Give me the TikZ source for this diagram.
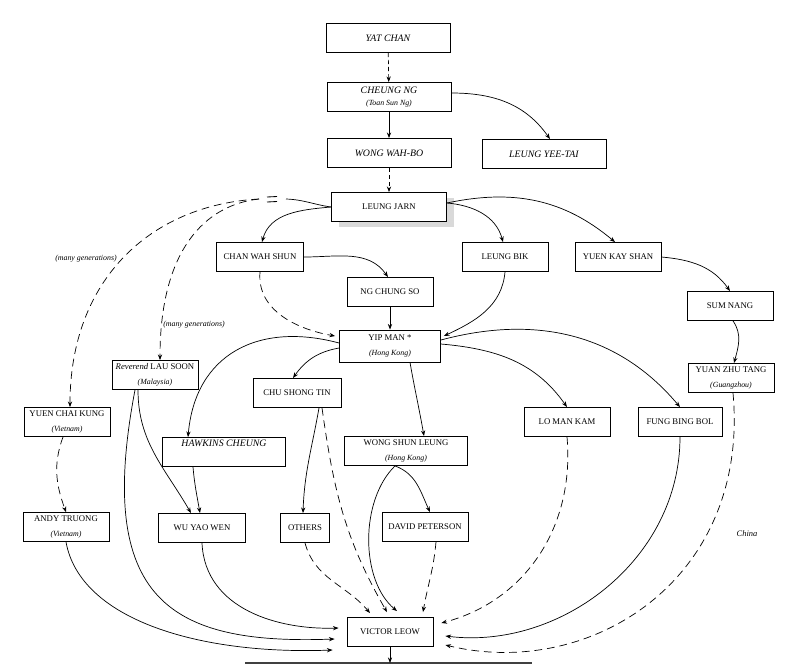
\documentclass[tikz,border=0pt]{standalone}
\usepackage{fontspec}
\setmainfont{Liberation Serif}
\usetikzlibrary{arrows.meta,shadows}
\newcommand{\boxfont}{\fontsize{6.2}{7.5}\selectfont}
\newcommand{\namefont}{\fontsize{7}{8}\selectfont\itshape}
\newcommand{\placefont}{\fontsize{5.6}{6.5}\selectfont\itshape}

\begin{document}
\begin{tikzpicture}[x=0.25mm, y=-0.25mm,
    box/.style={draw, fill=white, line width=0.6pt, minimum width=21.5mm,
      minimum height=7.25mm, inner sep=1pt, align=center, font=\boxfont},
    itbox/.style={box, font=\namefont, minimum width=31mm},
    link/.style={-{Stealth[length=4pt,width=3pt]}, line width=0.5pt},
    dlink/.style={link, dash pattern=on 5.5pt off 3.5pt},
    note/.style={font=\placefont}]
  \useasboundingbox (0,0) rectangle (800,668);

  % Lineage boxes (positions in pixels of the chart)
  \node[itbox] (yatchan) at (388,38) {YAT CHAN};
  \node[itbox] (cheungng) at (389,97) {CHEUNG NG\\{\placefont (Toan Sun Ng)}};
  \node[itbox] (wongwahbo) at (389,153) {WONG WAH-BO};
  \node[itbox] (leungyeetai) at (544,154) {LEUNG YEE-TAI};
  \node[box, minimum width=28.75mm,
    drop shadow={shadow xshift=1.75mm, shadow yshift=-1.25mm, fill=black!15, opacity=1}]
    (leungjarn) at (389,207) {LEUNG JARN};
  \node[box, minimum width=21.75mm] (chanwahshun) at (260,257) {CHAN WAH SHUN};
  \node[box] (ngchungso) at (390,292) {NG CHUNG SO};
  \node[box] (leungbik) at (505,257) {LEUNG BIK};
  \node[box] (yuenkayshan) at (618,257) {YUEN KAY SHAN};
  \node[box] (sumnang) at (730,306) {SUM NANG};
  \node[box, minimum width=25.25mm, minimum height=8mm] (yipman) at (390,346)
    {YIP MAN *\\[3pt]{\placefont (Hong Kong)}};
  \node[box] (yuanzhutang) at (731,378) {YUAN ZHU TANG\\[3pt]{\placefont (Guangzhou)}};
  \node[box] (laosoon) at (155,375) {{\itshape Reverend} LAU SOON\\[3pt]{\placefont (Malaysia)}};
  \node[box, minimum width=22mm] (chushongtin) at (297,393) {CHU SHONG TIN};
  \node[box] (yuenchaikung) at (67,422) {YUEN CHAI KUNG\\[3pt]{\placefont (Vietnam)}};
  \node[itbox, minimum width=30.75mm] (hawkins) at (224,452) {HAWKINS CHEUNG\\[4pt]};
  \node[box, minimum width=30.75mm] (wongshunleung) at (406,451)
    {WONG SHUN LEUNG\\[3pt]{\placefont (Hong Kong)}};
  \node[box] (lomankam) at (567,422) {LO MAN KAM};
  \node[box, minimum width=21mm] (fungbingbol) at (680,422) {FUNG BING BOL};
  \node[box] (andytruong) at (66,527) {ANDY TRUONG\\[3pt]{\placefont (Vietnam)}};
  \node[box, minimum width=21.75mm] (wuyaowen) at (202,528) {WU YAO WEN};
  \node[box, minimum width=12.25mm] (others) at (305,528) {OTHERS};
  \node[box] (davidpeterson) at (425,527) {DAVID PETERSON};
  \node[box] (victorleow) at (390,632) {VICTOR LEOW};

  % Side notes
  \node[note] (gen1) at (86,259) {(many generations)};
  \node[note] (gen2) at (194,325) {(many generations)};
  \node[note, font=\fontsize{6}{7}\selectfont\itshape] (china) at (747,534) {China};

  % Arrival points round VICTOR LEOW
  \coordinate (vw1) at ([xshift=-2mm,yshift=1mm]victorleow.west);
  \coordinate (vw2) at ([xshift=-3mm,yshift=-1.75mm]victorleow.west);
  \coordinate (vw3) at ([xshift=-3.5mm,yshift=-4.5mm]victorleow.west);
  \coordinate (ve1) at ([xshift=2mm,yshift=2.25mm]victorleow.east);
  \coordinate (ve2) at ([xshift=3mm,yshift=-1mm]victorleow.east);
  \coordinate (ve3) at ([xshift=3mm,yshift=-3.25mm]victorleow.east);
  \coordinate (vn1) at ([xshift=-5mm,yshift=1mm]victorleow.north);
  \coordinate (vn2) at ([xshift=-0.75mm,yshift=1.25mm]victorleow.north);
  \coordinate (vn3) at ([xshift=1.75mm,yshift=1.5mm]victorleow.north);
  \coordinate (vn4) at ([xshift=8.25mm,yshift=1.25mm]victorleow.north);

  % Top of the line
  \draw[dlink, dash pattern=on 3pt off 2pt] (yatchan) -- (cheungng);
  \draw[link] (cheungng) -- (wongwahbo);
  \draw[link] ([yshift=1mm]cheungng.east) to[out=0,in=125] ([xshift=1.5mm]leungyeetai.north);
  \draw[dlink, dash pattern=on 3pt off 2pt] (wongwahbo) -- (leungjarn);

  % Leung Jarn and his students
  \draw[link] (leungjarn.west) to[out=185,in=75] ([xshift=0.5mm]chanwahshun.north);
  \draw[link] ([yshift=1mm]leungjarn.east) to[out=-5,in=105] ([xshift=-0.5mm]leungbik.north);
  \draw[link] ([yshift=1mm]leungjarn.east) to[out=12,in=140] ([xshift=-0.75mm]yuenkayshan.north);

  % Broken line: many generations
  \coordinate (brkr) at (286,199);
  \coordinate (brkl) at (259,199);
  \draw[line width=0.5pt] (leungjarn.west) to[out=172,in=-2] (brkr);
  \draw[line width=0.6pt] (267,197) -- (277,196.5) (267,202) -- (277,201.5);
  \draw[dlink] (brkl) .. controls (150,205) and (70,280) .. ([xshift=0.75mm]yuenchaikung.north);
  \draw[dlink] (brkl) .. controls (205,205) and (160,250) .. ([xshift=1.25mm]laosoon.north);

  % Down to Yip Man
  \draw[link] (chanwahshun.east) to[out=0,in=125] ([xshift=-0.5mm]ngchungso.north);
  \draw[dlink] (chanwahshun.south) to[out=-95,in=170] ([xshift=-1mm,yshift=2.5mm]yipman.west);
  \draw[link] (ngchungso) -- (yipman);
  \draw[link] (leungbik.south) to[out=-95,in=25] ([xshift=0.75mm,yshift=2.5mm]yipman.east);
  \draw[link] (yuenkayshan.east) to[out=-5,in=125] (sumnang.north);
  \draw[link] ([xshift=0.75mm]sumnang.south) to[out=-55,in=75] ([xshift=0.75mm]yuanzhutang.north);

  % Yip Man and his students
  \draw[link] ([yshift=0.5mm]yipman.east) to[out=-5,in=125] (lomankam.north);
  \draw[link] ([yshift=1.5mm]yipman.east) to[out=15,in=130] (fungbingbol.north);
  \draw[link] ([yshift=0.75mm]yipman.west) to[out=165,in=85, looseness=1.2] ([xshift=-9mm]hawkins.north);
  \draw[link] ([yshift=-0.5mm]yipman.west) to[out=190,in=55] ([xshift=-1mm]chushongtin.north);
  \draw[link] ([xshift=5mm]yipman.south) to[out=-80,in=100] ([xshift=4.5mm]wongshunleung.north);

  % Middle generation
  \draw[link] ([xshift=-4.25mm]laosoon.south) to[out=-90,in=120] ([xshift=-2.75mm]wuyaowen.north);
  \draw[link] ([xshift=-7.75mm]hawkins.south) to[out=-85,in=100] ([xshift=-0.5mm]wuyaowen.north);
  \draw[dlink] ([xshift=-1mm]yuenchaikung.south) to[out=-110,in=110] (andytruong.north);
  \draw[link] ([xshift=5.5mm]chushongtin.south) to[out=-100,in=88] ([xshift=-0.5mm]others.north);
  \draw[link] ([xshift=-2.75mm]wongshunleung.south) to[out=-20,in=115] ([xshift=1.25mm]davidpeterson.north);

  % Everything into Victor Leow
  \draw[link] (wuyaowen.south) .. controls (205,610) and (280,630) .. (vw1);
  \draw[link] ([xshift=-5mm]laosoon.south) .. controls (95,600) and (170,645) .. (vw2);
  \draw[link] (andytruong.south) .. controls (80,620) and (200,655) .. (vw3);
  \draw[dlink] (others.south) to[out=-75,in=130] (vn1);
  \draw[dlink] ([xshift=6.25mm]chushongtin.south) to[out=-82,in=120] (vn2);
  \draw[link] ([xshift=-2.75mm]wongshunleung.south) .. controls (360,500) and (360,580) .. (vn3);
  \draw[dlink] ([xshift=2.75mm]davidpeterson.south) to[out=-95,in=80] (vn4);
  \draw[dlink] (lomankam.south) .. controls (575,527) and (525,601) .. (ve1);
  \draw[link] (fungbingbol.south) .. controls (680,560) and (560,650) .. (ve2);
  \draw[dlink] ([xshift=0.5mm]yuanzhutang.south) .. controls (750,580) and (590,680) .. (ve3);

  % Base line under Victor Leow
  \coordinate (baseL) at (245,663);
  \coordinate (baseR) at (532,663);
  \coordinate (base) at (390,663);
  \draw[line width=0.8pt, black!75] (baseL) -- (baseR);
  \draw[link] (victorleow) -- (base);
\end{tikzpicture}
\end{document}
